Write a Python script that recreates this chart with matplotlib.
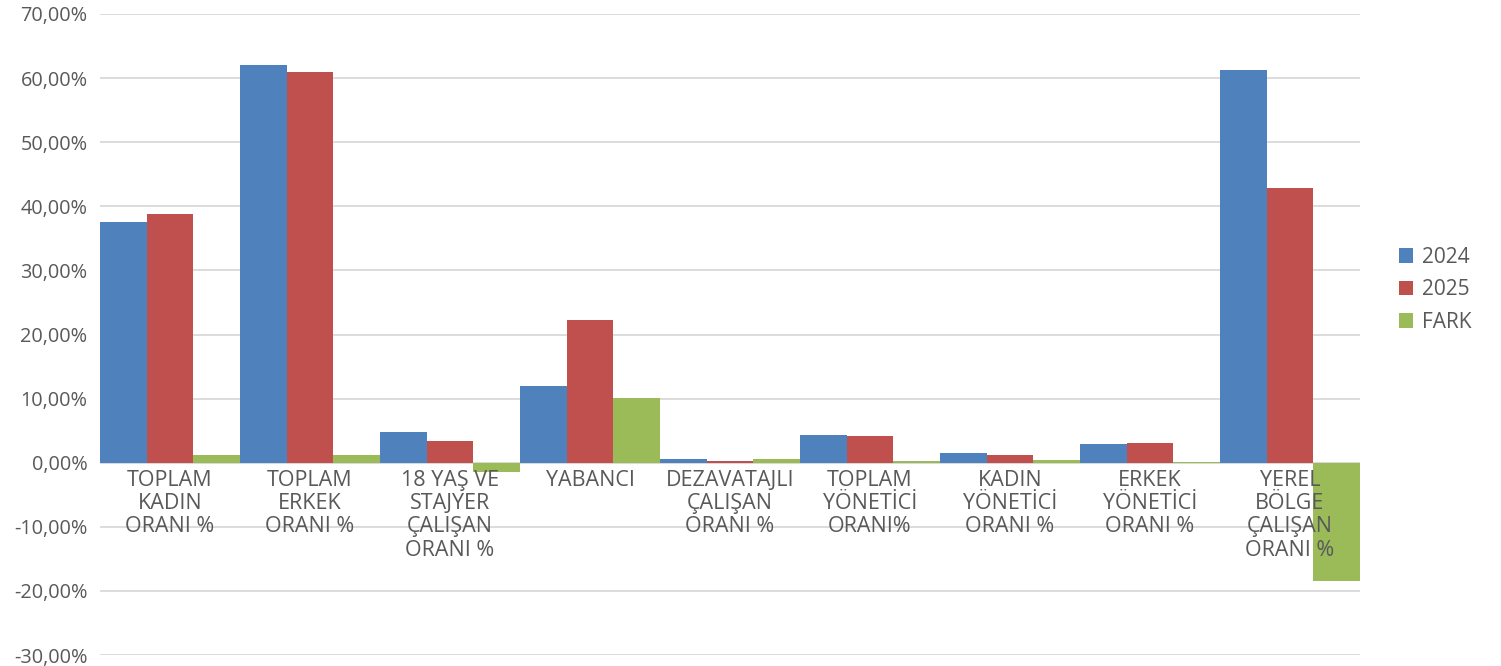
import numpy as np
import matplotlib
matplotlib.use("Agg")
import matplotlib.pyplot as plt
from matplotlib.ticker import FuncFormatter

## data -------------------------------------------------

categories = [
    "TOPLAM\nKADIN\nORANI %",
    "TOPLAM\nERKEK\nORANI %",
    "18 YAŞ VE\nSTAJYER\nÇALIŞAN\nORANI %",
    "YABANCI",
    "DEZAVATAJLI\nÇALIŞAN\nORANI %",
    "TOPLAM\nYÖNETİCİ\nORANI%",
    "KADIN\nYÖNETİCİ\nORANI %",
    "ERKEK\nYÖNETİCİ\nORANI %",
    "YEREL\nBÖLGE\nÇALIŞAN\nORANI %",
]
val_2024 = [37.6, 62.1, 4.8, 12.0, 0.6, 4.3, 1.5, 2.9, 61.3]
val_2025 = [38.8, 61.0, 3.4, 22.2, 0.2, 4.1, 1.2, 3.0, 42.9]
val_fark = [1.2, 1.2, -1.4, 10.1, 0.6, 0.3, 0.4, 0.1, -18.5]
series_names = ["2024", "2025", "FARK"]

## plot ---------------------------------------------------

plt.rcParams["font.family"] = ["Open Sans", "DejaVu Sans"]
grey = "#595959"

fig = plt.figure(figsize=(15.01, 6.66), dpi=100)
ax = fig.add_axes([100 / 1501, 11 / 666, 1260 / 1501, 641 / 666])

x = np.arange(len(categories))
w = 1 / 3
colors = ["#4F81BD", "#C0504D", "#9BBB59"]
for i, (vals, name) in enumerate(zip([val_2024, val_2025, val_fark], series_names)):
    ax.bar(x - 0.5 + w * (i + 0.5), vals, width=w, color=colors[i], label=name, zorder=2)

ax.set_xlim(-0.5, len(categories) - 0.5)
ax.set_ylim(-30, 70)
ax.set_yticks(np.arange(-30, 71, 10))
ax.yaxis.set_major_formatter(FuncFormatter(lambda v, p: f"{v:.2f}%".replace(".", ",")))
ax.grid(axis="y", color="#d9d9d9", linewidth=1.3, zorder=0)

for s in ["top", "right", "left", "bottom"]:
    ax.spines[s].set_visible(False)
ax.axhline(0, color="#d9d9d9", linewidth=1.3, zorder=1)

ax.set_xticks([])
ax.tick_params(axis="y", length=0, labelsize=14.3, labelcolor=grey, pad=9)

# category labels under the zero line, drawn above the bars
for xi, cat in zip(x, categories):
    ax.annotate(cat, (xi, 0), xytext=(0, -5), textcoords="offset points",
                ha="center", va="top", fontsize=15.5, color=grey,
                linespacing=1.15, zorder=5)

ax.legend(loc="center left", bbox_to_anchor=(1280 / 1260, 0.57), frameon=False,
          fontsize=15, labelcolor=grey, handlelength=0.7, handleheight=0.7,
          handletextpad=0.4, labelspacing=0.55)

fig.savefig("out.png", dpi=100)
